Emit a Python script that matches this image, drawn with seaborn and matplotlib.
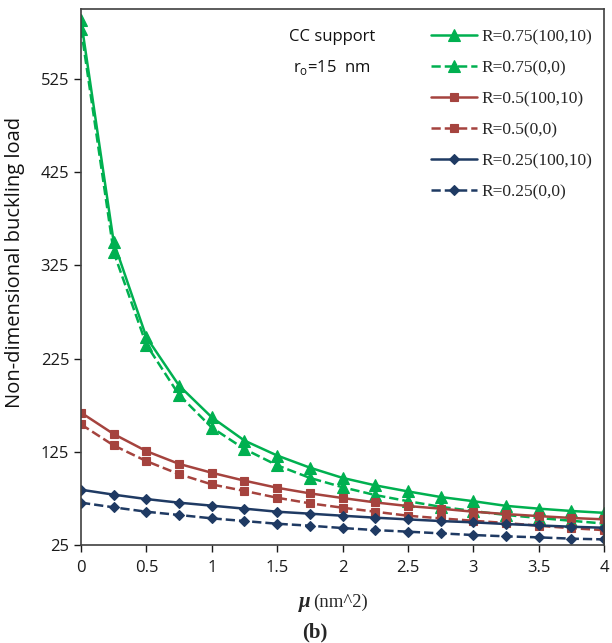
import numpy as np
import pandas as pd
import matplotlib
matplotlib.use("Agg")
import matplotlib.pyplot as plt
import seaborn as sns

mu = [0, 0.25, 0.5, 0.75, 1, 1.25, 1.5, 1.75, 2, 2.25, 2.5, 2.75, 3, 3.25, 3.5, 3.75, 4]

r075_100_10 = [588, 350, 248, 196, 162, 137, 121, 108, 97, 89, 82.5, 76.5, 72, 67, 64, 61.5, 59.5]
r075_0_0 = [579, 339, 240, 186, 151, 128, 110.5, 97, 87, 78.6, 72, 66, 61.4, 57.2, 54, 51, 48]
r05_100_10 = [167, 144, 125.7, 112, 102.5, 94, 86.4, 80.4, 75.4, 70.7, 66.8, 64, 60.7, 58.2, 56, 54, 52.5]
r05_0_0 = [154.4, 131.8, 115, 101, 90, 83, 75.7, 69.7, 65, 60.7, 56.4, 53.6, 51, 48.6, 45.7, 43, 41]
r025_100_10 = [84.3, 79, 74.3, 70.4, 67.2, 64, 60.7, 58.6, 56.4, 54.3, 52.5, 50.7, 49.3, 47.5, 46, 44.6, 43.5]
r025_0_0 = [70.4, 65.4, 60.7, 57.2, 53.6, 50.7, 47.8, 45.7, 43.2, 41, 39.3, 37.5, 35.7, 34.3, 33.2, 31.8, 31]

labels = ["R=0.75(100,10)", "R=0.75(0,0)", "R=0.5(100,10)", "R=0.5(0,0)",
          "R=0.25(100,10)", "R=0.25(0,0)"]
series = [r075_100_10, r075_0_0, r05_100_10, r05_0_0, r025_100_10, r025_0_0]

x_ticks = [0, 0.5, 1, 1.5, 2, 2.5, 3, 3.5, 4]
x_ticklabels = ["0", "0.5", "1", "1.5", "2", "2.5", "3", "3.5", "4"]
y_ticks = [25, 125, 225, 325, 425, 525]

sns.set_theme(style="white")
plt.rcParams['font.family'] = ['Open Sans', 'DejaVu Sans']

green = "#00B050"
red = "#A5433E"
blue = "#1F3A63"
styles = [
    dict(color=green, ls="-", marker="^", ms=8),
    dict(color=green, ls="--", marker="^", ms=8),
    dict(color=red, ls="-", marker="s", ms=5.5),
    dict(color=red, ls="--", marker="s", ms=5.5),
    dict(color=blue, ls="-", marker="D", ms=4.8),
    dict(color=blue, ls="--", marker="D", ms=4.8),
]

fig = plt.figure(figsize=(6.12, 6.43), dpi=100)
ax = fig.add_axes([81/612, 1 - 545/643, (604-81)/612, (545-9)/643])

for lab, vals, st in zip(labels, series, styles):
    df = pd.DataFrame({"mu": mu, "load": vals})
    sns.lineplot(data=df, x="mu", y="load", ax=ax, color=st["color"],
                 linestyle=st["ls"], marker=st["marker"], markersize=st["ms"],
                 markeredgecolor=st["color"], markeredgewidth=0.8,
                 linewidth=1.8, label=lab, dashes=False)

for line, st in zip(ax.get_lines(), styles):
    line.set_linestyle(st["ls"])

ax.set_xlim(0, 4)
ax.set_ylim(25, 600)
ax.set_xticks(x_ticks)
ax.set_xticklabels(x_ticklabels)
ax.set_yticks(y_ticks)
ax.tick_params(axis="both", labelsize=12, colors="#1a1a1a", direction="out",
               length=5, width=1, bottom=True, left=True)
ax.tick_params(axis="x", pad=6)
for s in ax.spines.values():
    s.set_color("#404040")
    s.set_linewidth(1.2)

ax.set_xlabel("")
ax.set_ylabel("Non-dimensional buckling load", fontsize=14.5, color="#111111")
ax.yaxis.set_label_coords(-0.108, 0.528)

handles, labs = ax.get_legend_handles_labels()
for h, st in zip(handles, styles):
    h.set_linestyle(st["ls"])
leg = ax.legend(handles, labs, loc="upper right", bbox_to_anchor=(1.0, 0.985),
                frameon=False, prop={"family": "Liberation Serif", "size": 12.5},
                handlelength=2.7, handletextpad=0.2, labelspacing=0.85,
                borderaxespad=0.3)

ax.text(0.48, 0.947, "CC support", transform=ax.transAxes, ha="center",
        va="center", fontsize=12, color="#111111")
ax.text(0.48, 0.891, "r$_\\mathregular{o}$=15  nm", transform=ax.transAxes,
        ha="center", va="center", fontsize=12, color="#111111")

fig.text(311/612, 1 - 602/643, "\u03bc", fontsize=15, fontweight="bold",
         style="italic", family="Liberation Serif", ha="right", va="center")
fig.text(313/612, 1 - 602/643, "(nm^2)", fontsize=13.5,
         family="Liberation Serif", ha="left", va="center")
fig.text(315/612, 1 - 632/643, "(b)", fontsize=15, fontweight="bold",
         family="Liberation Serif", ha="center", va="center")

fig.savefig("out.png", dpi=100)
